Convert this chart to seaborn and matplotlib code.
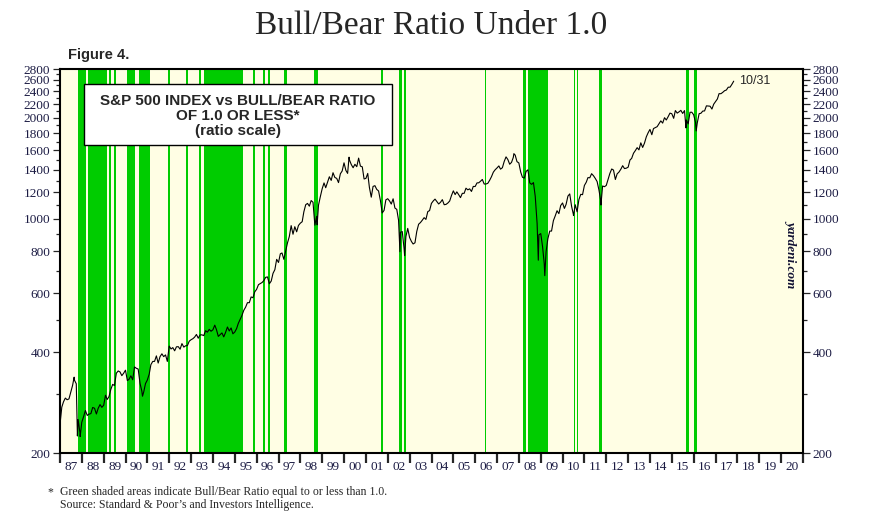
import numpy as np
import pandas as pd
import seaborn as sns
import matplotlib.pyplot as plt
from matplotlib.patches import Rectangle
from matplotlib.ticker import FixedLocator, FixedFormatter, NullFormatter

sns.set_style('white')

# S&P 500 month-end closes, Jan 1987 .. Oct 2017
sp500_monthly = [
    274.08, 284.20, 291.70, 288.36, 290.10, 304.00, 318.66, 329.80, 321.83, 251.79, 230.30, 247.08,
    257.07, 267.82, 258.89, 261.33, 262.16, 273.50, 272.02, 261.52, 271.91, 278.97, 273.70, 277.72,
    297.47, 288.86, 294.87, 309.64, 320.52, 317.98, 346.08, 351.45, 349.15, 340.36, 345.99, 353.40,
    329.08, 331.89, 339.94, 330.80, 361.23, 358.02, 356.15, 322.56, 306.05, 304.00, 322.22, 330.22,
    343.93, 367.07, 375.22, 375.34, 389.83, 371.16, 387.81, 395.43, 387.86, 392.46, 375.22, 417.09,
    408.79, 412.70, 403.69, 414.95, 415.35, 408.14, 424.21, 414.03, 417.80, 418.68, 431.35, 435.71,
    438.78, 443.38, 451.67, 440.19, 450.19, 450.53, 448.13, 463.56, 458.93, 467.83, 461.79, 466.45,
    481.61, 467.14, 445.77, 450.91, 456.50, 444.27, 458.26, 475.49, 462.69, 472.35, 453.69, 459.27,
    470.42, 487.39, 500.71, 514.71, 533.40, 544.75, 562.06, 561.88, 584.41, 581.50, 605.37, 615.93,
    636.02, 640.43, 645.50, 654.17, 669.12, 670.63, 639.95, 651.99, 687.31, 705.27, 757.02, 740.74,
    786.16, 790.82, 757.12, 801.34, 848.28, 885.14, 954.29, 899.47, 947.28, 914.62, 955.40, 970.43,
    980.28, 1049.34, 1101.75, 1111.75, 1090.82, 1133.84, 1120.67, 957.28, 1017.01, 1098.67, 1163.63, 1229.23,
    1279.64, 1238.33, 1286.37, 1335.18, 1301.84, 1372.71, 1328.72, 1320.41, 1282.71, 1362.93, 1388.91, 1469.25,
    1394.46, 1366.42, 1498.58, 1452.43, 1420.60, 1454.60, 1430.83, 1517.68, 1436.51, 1429.40, 1314.95, 1320.28,
    1366.01, 1239.94, 1160.33, 1249.46, 1255.82, 1224.42, 1211.23, 1133.58, 1040.94, 1059.78, 1139.45, 1148.08,
    1130.20, 1106.73, 1147.39, 1076.92, 1067.14, 989.82, 911.62, 916.07, 815.28, 885.76, 936.31, 879.82,
    855.70, 841.15, 848.18, 916.92, 963.59, 974.50, 990.31, 1008.01, 995.97, 1050.71, 1058.20, 1111.92,
    1131.13, 1144.94, 1126.21, 1107.30, 1120.68, 1140.84, 1101.72, 1104.24, 1114.58, 1130.20, 1173.82, 1211.92,
    1181.27, 1203.60, 1180.59, 1156.85, 1191.50, 1191.33, 1234.18, 1220.33, 1228.81, 1207.01, 1249.48, 1248.29,
    1280.08, 1280.66, 1294.83, 1310.61, 1270.09, 1270.20, 1276.66, 1303.82, 1335.85, 1377.94, 1400.63, 1418.30,
    1438.24, 1406.82, 1420.86, 1482.37, 1530.62, 1503.35, 1455.27, 1473.99, 1526.75, 1549.38, 1481.14, 1468.36,
    1378.55, 1330.63, 1322.70, 1385.59, 1400.38, 1280.00, 1267.38, 1282.83, 1166.36, 968.75, 896.24, 903.25,
    825.88, 735.09, 797.87, 872.81, 919.14, 919.32, 987.48, 1020.62, 1057.08, 1036.19, 1095.63, 1115.10,
    1073.87, 1104.49, 1169.43, 1186.69, 1089.41, 1030.71, 1101.60, 1049.33, 1141.20, 1183.26, 1180.55, 1257.64,
    1286.12, 1327.22, 1325.83, 1363.61, 1345.20, 1320.64, 1292.28, 1218.89, 1131.42, 1253.30, 1246.96, 1257.60,
    1312.41, 1365.68, 1408.47, 1397.91, 1310.33, 1362.16, 1379.32, 1406.58, 1440.67, 1412.16, 1416.18, 1426.19,
    1498.11, 1514.68, 1569.19, 1597.57, 1630.74, 1606.28, 1685.73, 1632.97, 1681.55, 1756.54, 1805.81, 1848.36,
    1782.59, 1859.45, 1872.34, 1883.95, 1923.57, 1960.23, 1930.67, 2003.37, 1972.29, 2018.05, 2067.56, 2058.90,
    1994.99, 2104.50, 2067.89, 2085.51, 2107.39, 2063.11, 2103.84, 1972.18, 1920.03, 2079.36, 2080.41, 2043.94,
    1940.24, 1932.23, 2059.74, 2065.30, 2096.95, 2098.86, 2173.60, 2170.95, 2168.27, 2126.15, 2198.81, 2238.83,
    2278.87, 2363.64, 2362.72, 2384.20, 2411.80, 2423.41, 2470.30, 2471.65, 2519.36, 2575.26,
]

# a few intra-month highs/lows so the swings show
extreme_dates = ['1986-12-31', '1987-08-25', '1987-10-19', '1987-12-04', '1990-10-11',
                 '1998-10-08', '2000-03-24', '2002-07-23', '2002-10-09', '2007-10-09',
                 '2008-11-20', '2009-03-09', '2010-07-02', '2011-10-03', '2015-08-25',
                 '2016-02-11']
extreme_values = [242.17, 336.77, 224.84, 223.92, 295.46,
                  959.44, 1527.46, 797.70, 776.76, 1565.15,
                  752.44, 676.53, 1022.58, 1099.23, 1867.61,
                  1829.08]

# periods with bull/bear ratio <= 1.0 (decimal years)
band_start = [1987.81, 1988.28, 1989.24, 1989.47, 1990.07, 1990.62, 1991.93, 1992.75,
              1993.36, 1993.58, 1995.85, 1996.29, 1996.53, 1997.25, 1998.62, 2001.69,
              2002.51, 2002.74, 2006.45, 2008.18, 2008.40, 2010.52, 2010.65, 2011.68,
              2015.65, 2016.02]
band_end = [1988.19, 1989.14, 1989.33, 1989.55, 1990.43, 1991.10, 1992.03, 1992.86,
            1993.45, 1995.36, 1995.94, 1996.38, 1996.60, 1997.38, 1998.79, 2001.78,
            2002.67, 2002.84, 2006.48, 2008.31, 2009.32, 2010.57, 2010.69, 2011.80,
            2015.79, 2016.16]

y_major = [200, 400, 600, 800, 1000, 1200, 1400, 1600, 1800, 2000, 2200, 2400, 2600, 2800]
y_minor = [300, 500, 700, 900, 1100, 1300, 1500, 1700, 1900, 2100, 2300, 2500, 2700]
years = list(range(1987, 2022))

months = pd.date_range('1987-01-31', '2017-10-31', freq='ME')
df = pd.concat([
    pd.DataFrame({'date': months, 'close': sp500_monthly}),
    pd.DataFrame({'date': pd.to_datetime(extreme_dates), 'close': extreme_values}),
]).sort_values('date')
df['year'] = df['date'].dt.year + (df['date'].dt.dayofyear - 1) / 365.25

fig = plt.figure(figsize=(8.72, 5.17), dpi=100)
ax = fig.add_axes([60 / 872, 1 - 453 / 517, 743 / 872, 384 / 517])
ax.set_facecolor('#FFFEE4')

for s, e in zip(band_start, band_end):
    ax.axvspan(s, e, color='#00CC00', lw=0, zorder=1)

sns.lineplot(data=df, x='year', y='close', ax=ax, color='black', lw=0.8, zorder=3)

ax.set_yscale('log')
ax.set_ylim(200, 2800)
ax.set_xlim(1987, 2021)
ax.set_xlabel('')
ax.set_ylabel('')

tick_col = '#1c1c44'
ax.yaxis.set_major_locator(FixedLocator(y_major))
ax.yaxis.set_major_formatter(FixedFormatter([str(v) for v in y_major]))
ax.yaxis.set_minor_locator(FixedLocator(y_minor))
ax.yaxis.set_minor_formatter(NullFormatter())
ax.tick_params(axis='y', which='major', direction='out', length=5, width=0.9,
               left=True, right=True, labelleft=True, labelright=True,
               labelsize=9.5, labelcolor=tick_col, pad=2)
ax.tick_params(axis='y', which='minor', direction='out', length=3, width=0.9,
               left=True, right=True)

ax.xaxis.set_major_locator(FixedLocator(years))
ax.xaxis.set_major_formatter(NullFormatter())
ax.xaxis.set_minor_locator(FixedLocator([y + 0.5 for y in years[:-1]]))
ax.xaxis.set_minor_formatter(FixedFormatter([f'{y % 100:02d}' for y in years[:-1]]))
ax.tick_params(axis='x', which='major', direction='out', length=7, width=1.6, bottom=True)
ax.tick_params(axis='x', which='minor', length=0, labelsize=9.5, labelcolor=tick_col, pad=6)

for lab in ax.get_xticklabels(minor=True) + ax.get_yticklabels():
    lab.set_family('Liberation Serif')

for sp in ax.spines.values():
    sp.set_linewidth(1.5)
    sp.set_color('black')

# legend box
ax.add_patch(Rectangle((24 / 743, 1 - 76 / 384), 308 / 743, 61 / 384, transform=ax.transAxes,
                       facecolor='white', edgecolor='black', lw=1.0, zorder=5))
ax.text(178 / 743, 1 - 47 / 384,
        'S&P 500 INDEX vs BULL/BEAR RATIO\nOF 1.0 OR LESS*\n(ratio scale)',
        transform=ax.transAxes, ha='center', va='center', fontsize=11,
        fontweight='bold', family='Liberation Sans', linespacing=1.1, zorder=6)

last = df.iloc[-1]
ax.annotate('10/31', xy=(last['year'], last['close']), xytext=(4, 0),
            textcoords='offset points', ha='left', va='center', fontsize=9,
            family='Liberation Sans', zorder=6)

ax.text(0.992, 0.52, 'yardeni.com', transform=ax.transAxes, rotation=270,
        ha='right', va='center', fontsize=9.5, fontweight='bold', fontstyle='italic',
        family='Liberation Serif', color='#111133', zorder=6)

fig.text(0.494, 1 - 34 / 517, 'Bull/Bear Ratio Under 1.0', ha='center', va='baseline',
         fontsize=24, family='Liberation Serif')
fig.text(68 / 872, 1 - 59 / 517, 'Figure 4.', ha='left', va='baseline',
         fontsize=10.5, fontweight='bold', family='Liberation Sans')
fig.text(47 / 872, 1 - 495 / 517, '*', ha='left', va='baseline',
         fontsize=8.5, family='Liberation Serif')
fig.text(60 / 872, 1 - 495 / 517,
         'Green shaded areas indicate Bull/Bear Ratio equal to or less than 1.0.',
         ha='left', va='baseline', fontsize=8.5, family='Liberation Serif')
fig.text(60 / 872, 1 - 508 / 517,
         'Source: Standard & Poor\u2019s and Investors Intelligence.',
         ha='left', va='baseline', fontsize=8.5, family='Liberation Serif')

fig.savefig('out.png', dpi=100)
